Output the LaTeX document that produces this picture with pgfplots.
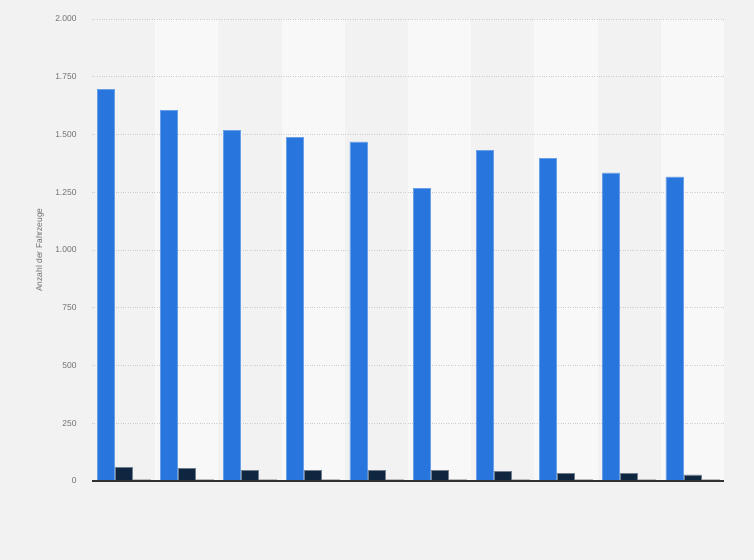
\documentclass[border=0pt]{standalone}
\usepackage{pgfplots}
\pgfplotsset{compat=1.18}
\usepackage{fontspec}
\setmainfont{Liberation Sans}
\definecolor{bg}{HTML}{F2F2F2}
\definecolor{band}{HTML}{F8F8F8}
\definecolor{blu}{HTML}{2876DD}
\definecolor{navy}{HTML}{0F2640}
\definecolor{gry}{HTML}{BDBDBD}
\definecolor{tick}{HTML}{707070}
\pagecolor{bg}
\begin{document}
\begin{tikzpicture}[x=1bp,y=1bp]
\path (0,0) rectangle (754,560);
\begin{axis}[
    set layers,
    at={(92bp,79bp)}, anchor=south west,
    scale only axis, width=632bp, height=462bp,
    xmin=-0.5, xmax=9.5, ymin=0, ymax=2000,
    ybar=1bp, bar width=17bp,
    axis lines*=left,
    y axis line style={draw=none},
    x axis line style={draw=none},
    xtick=\empty,
    ytick={0,250,...,2000},
    major tick length=0pt,
    ymajorgrids,
    grid style={dotted, color=black!20, line width=0.7bp},
    scaled y ticks=false,
    /pgf/number format/.cd, 1000 sep={.}, assume math mode=true,
    /pgfplots/.cd,
    yticklabel style={font=\fontsize{8.5}{10}\selectfont, text=tick, xshift=-12bp},
    ylabel={Anzahl der Fahrzeuge},
    ylabel style={font=\fontsize{8.5}{10}\selectfont, text=tick,
        at={(axis description cs:-0.0823,0.5)}, anchor=center},
]
\begin{pgfonlayer}{axis background}
\pgfplotsinvokeforeach{1,3,5,7,9}{
  \fill[band] (axis cs:#1-0.5,0) rectangle (axis cs:#1+0.5,2000);
}
\end{pgfonlayer}
\addplot[fill=blu, draw=blu!70!white, line width=0.5bp] coordinates {
  (0,1695) (1,1603) (2,1517) (3,1486) (4,1468)
  (5,1268) (6,1430) (7,1398) (8,1334) (9,1317)
};
\addplot[fill=navy, draw=navy!60!white, line width=0.5bp] coordinates {
  (0,59) (1,55) (2,45) (3,45) (4,45)
  (5,45) (6,42) (7,33) (8,33) (9,27)
};
\addplot[fill=gry, draw=gry, line width=0.5bp] coordinates {
  (0,8) (1,8) (2,8) (3,8) (4,8)
  (5,8) (6,8) (7,8) (8,8) (9,8)
};
\begin{pgfonlayer}{axis foreground}
\draw[black!80, line width=1.3bp] (axis cs:-0.5,0) -- (axis cs:9.5,0);
\end{pgfonlayer}
\end{axis}
\end{tikzpicture}
\end{document}
